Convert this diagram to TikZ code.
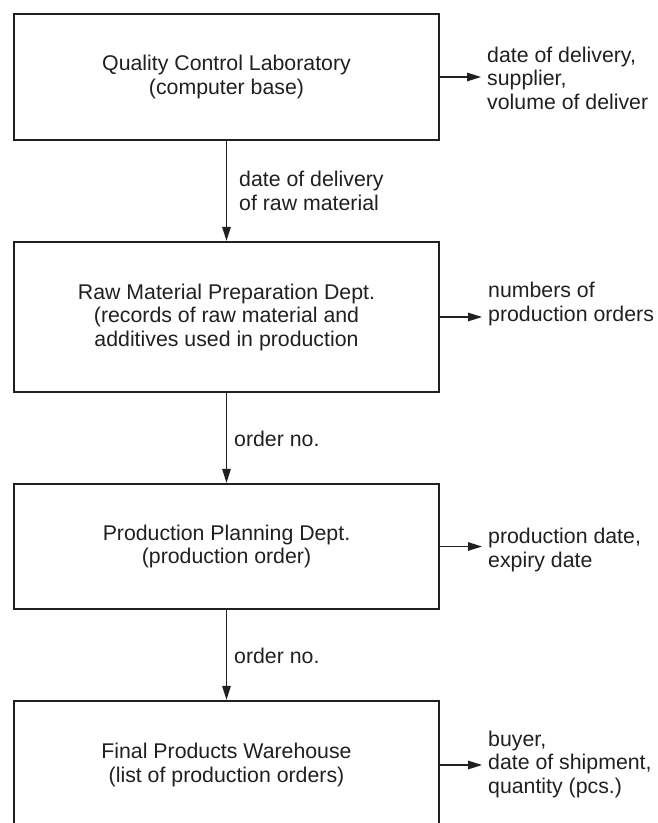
\documentclass[tikz,border=0pt]{standalone}
\usepackage{fontspec}
\setmainfont{Liberation Sans}
\usetikzlibrary{arrows.meta}
\definecolor{ink}{HTML}{231F20}
\newcommand{\labfont}{\fontsize{21.3}{23.5}\selectfont}
\tikzset{
  box/.style={draw=ink, line width=2.3pt, minimum width=425pt, inner sep=0pt, align=center, font=\labfont, text=ink},
  conn/.style={draw=ink, line width=1.3pt, -{Triangle[length=14pt,width=8.5pt]}},
  lbl/.style={font=\labfont, text=ink, align=left, inner sep=0pt, anchor=west},
}
\begin{document}
\begin{tikzpicture}[x=1pt, y=-1pt]
\useasboundingbox (0,0) rectangle (657,823);
\clip (0,0) rectangle (657,823);
\fill[white] (0,0) rectangle (657,823);
\node[box, minimum height=126pt] (b1) at (226.5,77) {Quality Control Laboratory\\(computer base)};
\node[box, minimum height=150pt] (b2) at (226.5,317) {Raw Material Preparation Dept.\\(records of raw material and\\additives used in production};
\node[box, minimum height=125pt] (b3) at (226.5,546.5) {Production Planning Dept.\\(production order)};
\node[box, minimum height=128pt] (b4) at (226.5,765) {Final Products Warehouse\\(list of production orders)};

\node[lbl] (l1) at (239,191) {date of delivery\\of raw material};
\node[lbl] (l2) at (234,439) {order no.};
\node[lbl] (l3) at (234,656) {order no.};

\node[lbl] (o1) at (487,78) {date of delivery,\\supplier,\\volume of deliver};
\node[lbl] (o2) at (488,304) {numbers of\\production orders};
\node[lbl] (o3) at (488,550) {production date,\\expiry date};
\node[lbl] (o4) at (488,764) {buyer,\\date of shipment,\\quantity (pcs.)};

\draw[conn] (b1) -- (b2);
\draw[conn] (b2) -- (b3);
\draw[conn] (b3) -- (b4);

\draw[conn, shorten >=6pt] (b1.east) -- (b1.east -| o1.west);
\draw[conn, shorten >=6pt] (b2.east) -- (b2.east -| o2.west);
\draw[conn, shorten >=6pt] (b3.east) -- (b3.east -| o3.west);
\draw[conn, shorten >=6pt] (b4.east) -- (b4.east -| o4.west);
\end{tikzpicture}
\end{document}
